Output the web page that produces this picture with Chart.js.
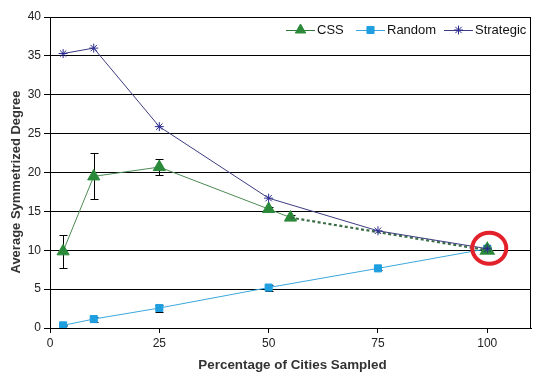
<!DOCTYPE html>
<html><head><meta charset="utf-8">
<script src="https://cdn.jsdelivr.net/npm/chart.js@4.4.1/dist/chart.umd.min.js"></script>
<style>html,body{margin:0;padding:0;background:#fff}#wrap{width:546px;height:384px}</style>
</head><body><div id="wrap"><canvas id="c" width="546" height="384"></canvas></div>
<script>
const xTicks=[0,25,50,75,100];
const yTicks=[0,5,10,15,20,25,30,35,40];
const xTitle='Percentage of Cities Sampled';
const yTitle='Average Symmetrized Degree';
const cssX=[3,10,25,50,55,100];
const cssY=[9.86,19.5,20.7,15.3,14.2,10.0];
const cssLow=[7.76,16.6,19.7,15.0,13.9,9.8];
const cssHigh=[12.0,22.5,21.8,15.6,14.5,10.2];
const randX=[3,10,25,50,75,100];
const randY=[0.34,1.15,2.57,5.2,7.67,10.2];
const randLow=[0.2,0.77,2.1,4.7,7.4,9.95];
const randHigh=[0.45,1.4,2.9,5.5,7.9,10.4];
const stratX=[3,10,25,50,75,100];
const stratY=[35.3,36.0,25.9,16.7,12.5,10.2];
const highlight={x:100,y:10};

const FONT="'Liberation Sans', Arial, sans-serif";
const pts=(xs,ys)=>xs.map((x,i)=>({x:x,y:ys[i]}));
const cssPts=pts(cssX,cssY);

const datasets=[
 {label:'CSS',data:cssPts.slice(0,5),borderColor:'#4c8a55',backgroundColor:'#2a8a3a',borderWidth:1,pointStyle:'triangle',pointRadius:7,pointBorderColor:'#2a8a3a',pointBackgroundColor:'#2a8a3a',order:2},
 {label:'CSS-tail',data:cssPts.slice(4),borderColor:'#3b6e45',borderWidth:2.2,borderDash:[3,2.5],pointStyle:'triangle',pointRadius:[0,7],pointBorderColor:'#2a8a3a',pointBackgroundColor:'#2a8a3a',order:1},
 {label:'Random',data:pts(randX,randY),borderColor:'#3aa8dc',backgroundColor:'#1f9fe0',borderWidth:1,pointStyle:'rect',pointRadius:5,pointBorderColor:'#1f9fe0',pointBackgroundColor:'#1f9fe0',order:3},
 {label:'Strategic',data:pts(stratX,stratY),borderColor:'#3c3c80',backgroundColor:'#2a2a90',borderWidth:1,pointStyle:'star',pointRadius:4.5,pointBorderColor:'#2a2a90',pointBorderWidth:1,order:0}
];

const legendItems=[
 {text:'CSS',line:'#2f7a3a',style:'triangle',r:6,fill:'#2a8a3a',x:286},
 {text:'Random',line:'#3aa8dc',style:'rect',r:5,fill:'#1f9fe0',x:356},
 {text:'Strategic',line:'#3c3c80',style:'star',r:4.5,fill:'#2a2a90',x:444}
];

const decor={
 id:'decor',
 beforeDatasetsDraw(chart){
  const ctx=chart.ctx,a=chart.chartArea,xs=chart.scales.x,ys=chart.scales.y;
  ctx.save();
  ctx.strokeStyle='#000';ctx.lineWidth=1;
  ctx.strokeRect(Math.round(a.left)+0.5,Math.round(a.top)+0.5,Math.round(a.right-a.left)-1,Math.round(a.bottom-a.top));
  const bars=(X,L,H)=>{X.forEach((x,i)=>{
   const px=Math.round(xs.getPixelForValue(x))+0.5,pl=Math.round(ys.getPixelForValue(L[i]))+0.5,ph=Math.round(ys.getPixelForValue(H[i]))+0.5;
   ctx.beginPath();ctx.moveTo(px,pl);ctx.lineTo(px,ph);
   ctx.moveTo(px-4,pl);ctx.lineTo(px+4,pl);ctx.moveTo(px-4,ph);ctx.lineTo(px+4,ph);ctx.stroke();});};
  bars(cssX,cssLow,cssHigh);bars(randX,randLow,randHigh);
  ctx.restore();
 },
 afterDraw(chart){
  const ctx=chart.ctx,a=chart.chartArea,xs=chart.scales.x,ys=chart.scales.y;
  ctx.save();
  // highlight circle
  ctx.strokeStyle='#e3212b';ctx.lineWidth=4;
  ctx.beginPath();ctx.ellipse(xs.getPixelForValue(highlight.x)+2,ys.getPixelForValue(highlight.y)-2,17,15.5,0,0,Math.PI*2);ctx.stroke();
  // legend
  ctx.font='13px '+FONT;ctx.textBaseline='middle';ctx.textAlign='left';
  const y=30;
  legendItems.forEach(it=>{
   const x=it.x;
   ctx.strokeStyle=it.line;ctx.lineWidth=1;ctx.setLineDash([]);
   ctx.beginPath();ctx.moveTo(x,y+0.5);ctx.lineTo(x+29,y+0.5);ctx.stroke();
   ctx.fillStyle=it.fill;ctx.strokeStyle=it.fill;
   Chart.helpers.drawPoint(ctx,{pointStyle:it.style,radius:it.r,rotation:0,borderWidth:1},x+14.5,y);
   ctx.fillStyle='#111';
   ctx.fillText(it.text,x+31,y);
  });
  // axis titles
  ctx.fillStyle='#333';ctx.font='bold 13.4px '+FONT;ctx.textAlign='center';
  ctx.fillText(xTitle,292.5,365);
  ctx.font='bold 13px '+FONT;
  ctx.translate(16,182);ctx.rotate(-Math.PI/2);ctx.fillText(yTitle,0,0);
  ctx.restore();
 }
};

new Chart(document.getElementById('c'),{
 type:'line',
 data:{datasets:datasets},
 options:{
  responsive:false,animation:false,devicePixelRatio:1,
  layout:{padding:{top:17,right:15,left:0,bottom:0}},
  plugins:{legend:{display:false},tooltip:{enabled:false}},
  elements:{line:{tension:0}},
  scales:{
   x:{type:'linear',min:0,max:110,
    afterBuildTicks:s=>{s.ticks=xTicks.map(v=>({value:v}));},
    afterFit:s=>{s.height=56;},
    grid:{drawOnChartArea:false,color:'#000',tickLength:5,tickColor:'#000'},
    border:{color:'#000',width:1},
    ticks:{color:'#222',font:{size:12,family:FONT},padding:3,maxRotation:0}},
   y:{type:'linear',min:0,max:40,
    afterBuildTicks:s=>{s.ticks=yTicks.map(v=>({value:v}));},
    afterFit:s=>{s.width=50;},
    grid:{color:'#000',lineWidth:1,tickLength:6,tickColor:'#000'},
    border:{color:'#000',width:1},
    ticks:{color:'#222',font:{size:12,family:FONT},padding:3}}
  }
 },
 plugins:[decor]
});
</script></body></html>
